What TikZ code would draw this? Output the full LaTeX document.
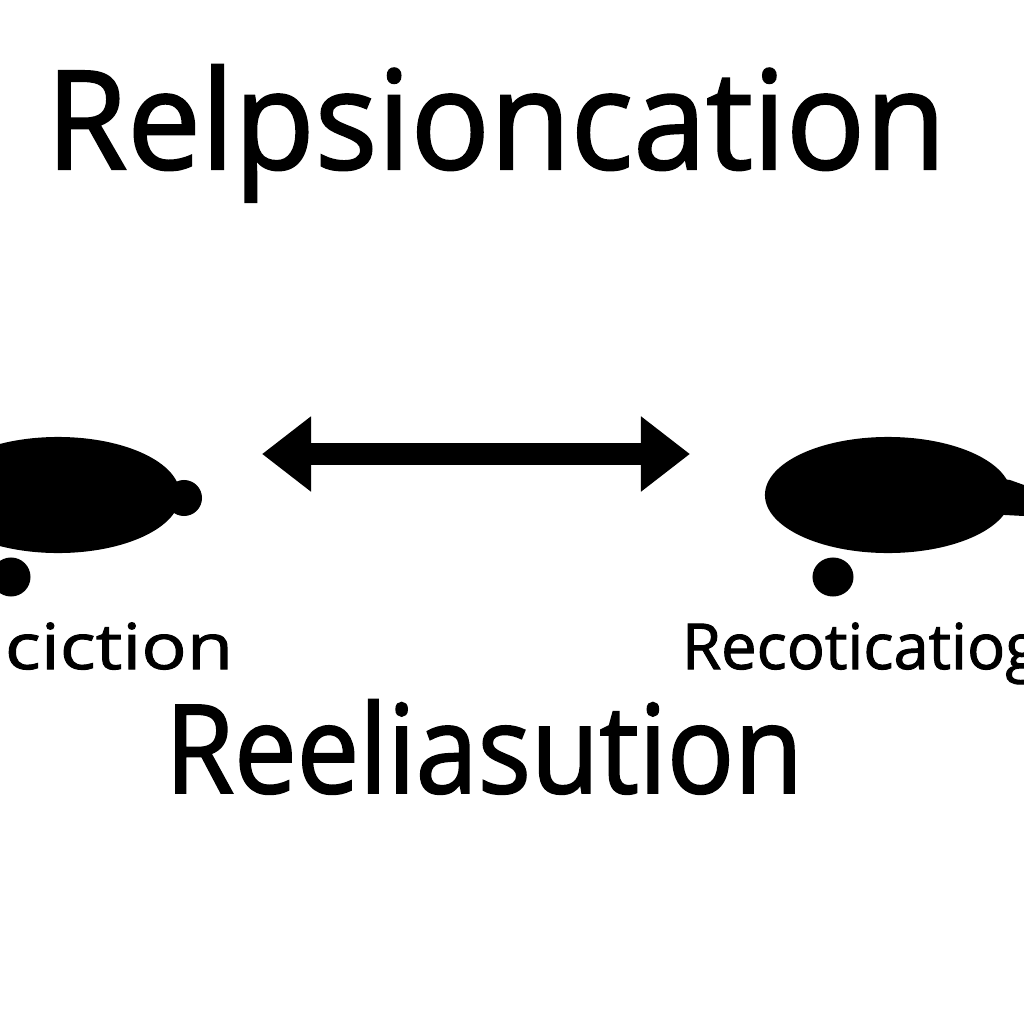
\documentclass[tikz,border=0pt]{standalone}
\usepackage{fontspec}
\setmainfont[FakeBold=1.6]{Open Sans}
\newfontfamily\titlefont[FakeBold=1.6,FakeStretch=0.958]{Open Sans}
\newfontfamily\resultfont[FakeBold=1.6,FakeStretch=0.906]{Open Sans}
\newfontfamily\leftfont[FakeBold=1.6,FakeStretch=1.19]{Open Sans}
\usepackage{tikz}
\usetikzlibrary{arrows.meta,positioning,shapes.geometric}

\begin{document}
\begin{tikzpicture}[
  x=0.01cm, y=-0.01cm,
  blob/.style={draw=none, fill=black, ellipse, inner sep=0pt},
  titlelabel/.style={font=\titlefont\fontsize{39}{39}\selectfont, inner sep=0pt, anchor=base},
  resultlabel/.style={font=\resultfont\fontsize{35}{35}\selectfont, inner sep=0pt, anchor=base},
  leftlabelstyle/.style={font=\leftfont\fontsize{18}{18}\selectfont, inner sep=0pt, anchor=base},
  sidelabel/.style={font=\fontsize{18}{18}\selectfont, inner sep=0pt, anchor=base},
  arr/.style={{Triangle[length=0.49cm,width=0.72cm]}-{Triangle[length=0.49cm,width=0.72cm]}, line width=0.21cm}
]
  \useasboundingbox (0,0) rectangle (1024,1024);
  \fill[white] (0,0) rectangle (1024,1024);

  \node[titlelabel] (title) at (496,169) {Relpsioncation};
  \node[resultlabel] (result) at (484,793) {Reeliasution};
  \node[leftlabelstyle] (leftlabel) at (119,669) {ciction};
  \node[sidelabel] (rightlabel) at (861,669) {Recoticatiog};

  % left blob, cut by the page edge
  \node[blob, minimum width=2.44cm, minimum height=1.16cm] (leftbody) at (58,495) {};
  \node[blob, minimum width=0.36cm, minimum height=0.36cm] (leftknob) at (184,498) {};
  \node[blob, minimum width=0.39cm, minimum height=0.39cm] (leftwheel) at (11,577) {};

  % right blob
  \node[blob, minimum width=2.46cm, minimum height=1.16cm] (rightbody) at (888,495) {};
  \node[blob, minimum width=0.41cm, minimum height=0.39cm] (rightwheel) at (833,577) {};
  \fill (995,478) -- (1010,480) -- (1024,485) -- (1024,516) -- (1005,515) -- (990,512) -- cycle;

  \coordinate (arrowl) at (262,454);
  \coordinate (arrowr) at (690,454);
  \draw[arr] (arrowl) -- (arrowr);
\end{tikzpicture}
\end{document}
